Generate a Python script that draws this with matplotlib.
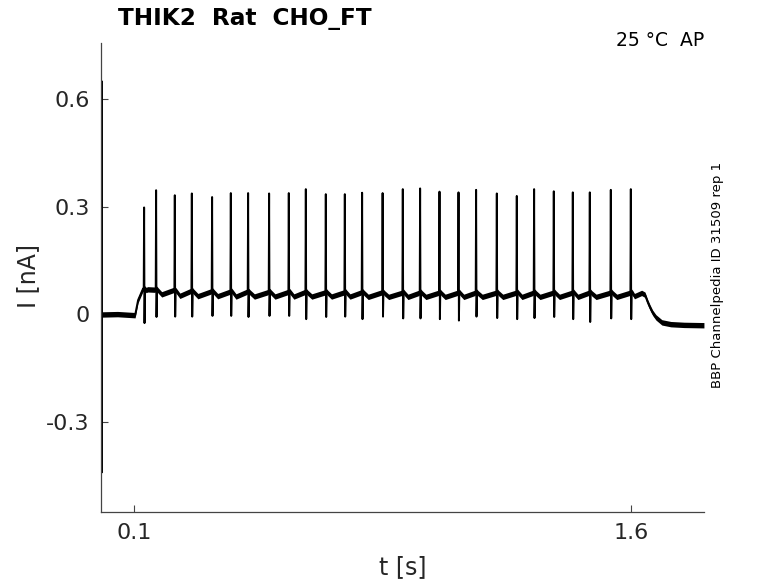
import matplotlib
matplotlib.use("Agg")
import matplotlib.pyplot as plt
import numpy as np

# spike times [s], peak and trough currents [nA]
spike_t = [0.1302, 0.1664, 0.2228, 0.2742, 0.3354, 0.3919, 0.4441, 0.5075,
           0.5669, 0.6183, 0.6786, 0.7360, 0.7882, 0.8501, 0.9110, 0.9633,
           1.0218, 1.0792, 1.1323, 1.1948, 1.2551, 1.3074, 1.3668, 1.4242,
           1.4755, 1.5389, 1.5993]
spike_peak = [0.298, 0.346, 0.332, 0.337, 0.327, 0.338, 0.338, 0.337,
              0.338, 0.349, 0.335, 0.335, 0.339, 0.338, 0.349, 0.351,
              0.342, 0.340, 0.347, 0.337, 0.330, 0.349, 0.343, 0.340,
              0.340, 0.347, 0.349]
spike_trough = [-0.024, -0.007, -0.006, -0.006, -0.004, -0.004, -0.007, -0.004,
                -0.004, -0.013, -0.007, -0.006, -0.013, -0.006, -0.011, -0.011,
                -0.013, -0.017, -0.006, -0.010, -0.013, -0.010, -0.007, -0.013,
                -0.021, -0.011, -0.013]

# level of the trace between spikes (bump at spike, dip after it)
bump_level = [0.072, 0.071, 0.068, 0.067, 0.066, 0.066, 0.065, 0.065,
              0.065, 0.064, 0.064, 0.064, 0.064, 0.063, 0.063, 0.063,
              0.063, 0.063, 0.063, 0.063, 0.063, 0.063, 0.063, 0.063,
              0.063, 0.063, 0.063]
dip_level = [0.070, 0.056, 0.052, 0.051, 0.051, 0.050, 0.050, 0.050,
             0.050, 0.050, 0.050, 0.050, 0.049, 0.049, 0.049, 0.049,
             0.049, 0.049, 0.049, 0.049, 0.049, 0.049, 0.049, 0.049,
             0.049, 0.049, 0.051]

# before / after the step
pre_t = [0.0, 0.0015]
pre_v = [0.0, 0.0]
transient_t = [0.0018, 0.0022, 0.0030]
transient_v = [0.65, -0.44, 0.0]
onset_t = [0.004, 0.050, 0.103, 0.112, 0.127]
onset_v = [0.0, 0.001, -0.002, 0.04, 0.072]
offset_t = [1.636, 1.642, 1.650, 1.657, 1.665, 1.675, 1.693, 1.72, 1.76, 1.82]
offset_v = [0.058, 0.055, 0.035, 0.020, 0.005, -0.008, -0.022, -0.027, -0.029, -0.030]
noise_hw = 0.0075

# build the line from the read values
tt = pre_t + transient_t + onset_t
vv = pre_v + transient_v + onset_v
bt = pre_t + onset_t   # smooth part for the noise band
bv = pre_v + onset_v
for i, ts in enumerate(spike_t):
    nxt = spike_t[i + 1] if i + 1 < len(spike_t) else offset_t[0]
    b, d = bump_level[i], dip_level[i]
    tt += [ts - 0.0012, ts, ts + 0.0012, ts + 0.0025, ts + 0.006]
    vv += [b, spike_peak[i], spike_trough[i], b, b - 0.004]
    bt += [ts - 0.0012, ts + 0.0025, ts + 0.006]
    bv += [b, b, b - 0.004]
    tt += [ts + 0.3 * (nxt - ts), nxt - 0.004]
    vv += [d, b - 0.003]
    bt += [ts + 0.3 * (nxt - ts), nxt - 0.004]
    bv += [d, b - 0.003]
tt += offset_t
vv += offset_v
bt += offset_t
bv += offset_v

fig = plt.figure(figsize=(7.78, 5.83), dpi=100)
ax = fig.add_axes([0.1298, 0.1218, 0.775, 0.8045])

bv = np.array(bv)
ax.fill_between(bt, bv - noise_hw, bv + noise_hw, color="black", lw=0)
ax.plot(tt, vv, color="black", lw=1.4)

ax.set_xlim(0.0, 1.82)
ax.set_ylim(-0.550, 0.756)
ax.set_xticks([0.1, 1.6])
ax.set_xticklabels(["0.1", "1.6"])
ax.set_yticks([-0.3, 0, 0.3, 0.6])
ax.set_yticklabels(["-0.3", "0", "0.3", "0.6"])

for s in ["top", "right"]:
    ax.spines[s].set_visible(False)
for s in ["left", "bottom"]:
    ax.spines[s].set_color("#444444")
    ax.spines[s].set_linewidth(0.9)
ax.tick_params(direction="in", length=5, width=0.8, colors="#444444",
               labelcolor="#262626", labelsize=16, pad=8)

ax.set_xlabel("t [s]", fontsize=17, color="#262626", va="center")
ax.set_ylabel("I [nA]", fontsize=17, color="#262626", va="center")
ax.xaxis.set_label_coords(0.5, -0.117)
ax.yaxis.set_label_coords(-0.121, 0.504)

fig.text(0.152, 0.969, "THIK2  Rat  CHO_FT", fontsize=16.7, fontweight="bold",
         ha="left", va="center")
fig.text(0.905, 0.930, "25 °C  AP", fontsize=13.5, ha="right", va="center")
fig.text(0.922, 0.528, "BBP Channelpedia ID 31509 rep 1", fontsize=9.5,
         rotation=90, ha="center", va="center")

fig.savefig("out.png", dpi=100)
